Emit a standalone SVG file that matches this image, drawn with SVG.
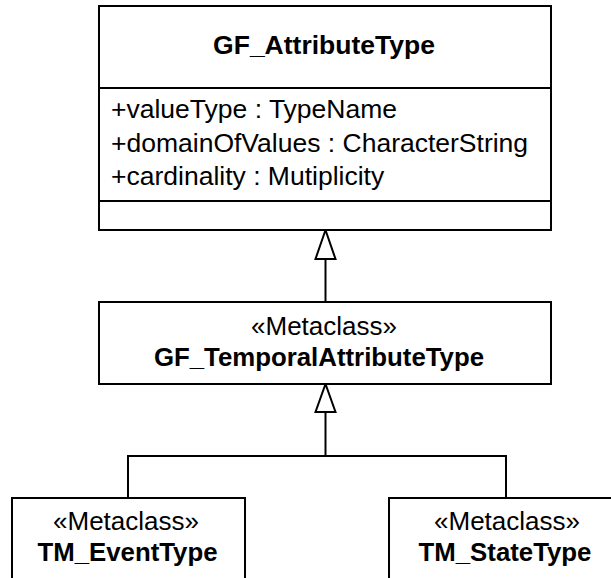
<svg xmlns="http://www.w3.org/2000/svg" width="611" height="578" viewBox="0 0 611 578">
<style>
.box{fill:#fff;stroke:#000;stroke-width:2}
.ln{fill:none;stroke:#000;stroke-width:2}
.head{fill:#fff;stroke:#000;stroke-width:2;stroke-linejoin:miter}
.t{font-family:"Liberation Sans",Arial,sans-serif;font-size:26px;fill:#000}
.b{font-family:"Liberation Sans",Arial,sans-serif;font-size:25.8px;font-weight:bold;fill:#000}
.big{font-size:26.5px}
.c{text-anchor:middle}
</style>
<rect width="611" height="578" fill="#fff"/>
<g id="connectors">
<line class="ln" x1="325.5" y1="259" x2="325.5" y2="302"/>
<polygon class="head" points="325.5,230 315.5,259 335.5,259"/>
<line class="ln" x1="325.5" y1="412" x2="325.5" y2="456"/>
<polyline class="ln" points="128,498 128,456 506,456 506,498"/>
<polygon class="head" points="325.5,384 315.5,412 335.5,412"/>
</g>
<g id="GF_AttributeType">
<rect class="box" x="99" y="6" width="452" height="224"/>
<line class="ln" x1="99" y1="88" x2="551" y2="88"/>
<line class="ln" x1="99" y1="201" x2="551" y2="201"/>
<text class="b big c" x="324" y="54">GF_AttributeType</text>
<text class="t big" x="111" y="118">+valueType : TypeName</text>
<text class="t big" x="111" y="152">+domainOfValues : CharacterString</text>
<text class="t big" x="111" y="185">+cardinality : Mutiplicity</text>
</g>
<g id="GF_TemporalAttributeType">
<rect class="box" x="99" y="302" width="452" height="82"/>
<text class="t c" x="324" y="335">«Metaclass»</text>
<text class="b c" x="319" y="366">GF_TemporalAttributeType</text>
</g>
<g id="TM_EventType">
<rect class="box" x="12" y="498" width="233" height="90"/>
<text class="t c" x="126" y="530">«Metaclass»</text>
<text class="b c" x="127.5" y="561">TM_EventType</text>
</g>
<g id="TM_StateType">
<rect class="box" x="389" y="498" width="234" height="90"/>
<text class="t c" x="507" y="530">«Metaclass»</text>
<text class="b c" x="505" y="561">TM_StateType</text>
</g>
</svg>
